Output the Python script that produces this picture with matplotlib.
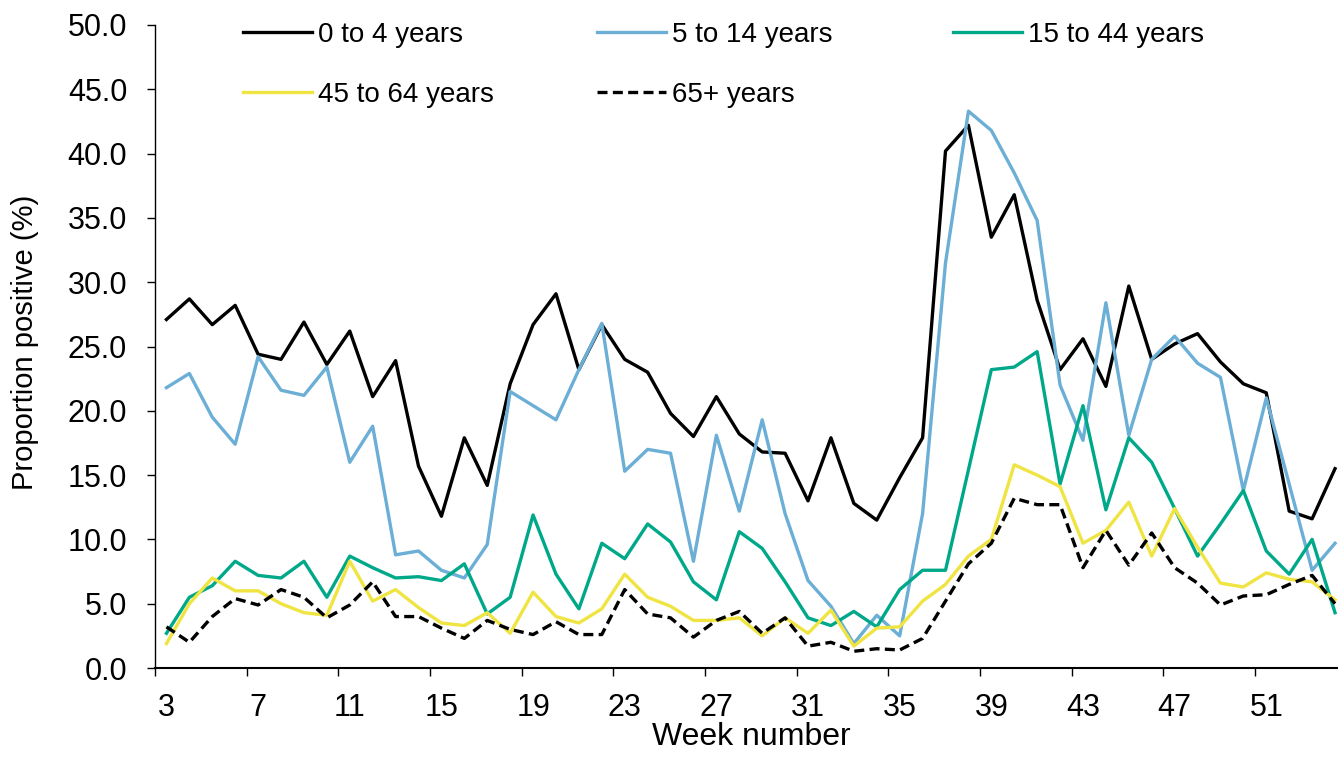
import numpy as np
import matplotlib
matplotlib.use("Agg")
from matplotlib import pyplot as plt

weeks = list(range(3, 55))

age_0_4 = [27.1, 28.7, 26.7, 28.2, 24.4, 24.0, 26.9, 23.6, 26.2, 21.1,
           23.9, 15.7, 11.8, 17.9, 14.2, 22.1, 26.7, 29.1, 23.2, 26.7,
           24.0, 23.0, 19.8, 18.0, 21.1, 18.2, 16.8, 16.7, 13.0, 17.9,
           12.8, 11.5, 14.8, 17.9, 40.2, 42.2, 33.5, 36.8, 28.6, 23.2,
           25.6, 21.9, 29.7, 24.0, 25.2, 26.0, 23.8, 22.1, 21.4, 12.2,
           11.6, 15.5]
age_5_14 = [21.8, 22.9, 19.5, 17.4, 24.2, 21.6, 21.2, 23.4, 16.0, 18.8,
            8.8, 9.1, 7.6, 7.0, 9.6, 21.5, 20.4, 19.3, 23.2, 26.8,
            15.3, 17.0, 16.7, 8.3, 18.1, 12.2, 19.3, 12.0, 6.8, 4.8,
            1.9, 4.1, 2.5, 12.0, 31.5, 43.3, 41.8, 38.5, 34.8, 22.0,
            17.7, 28.4, 18.1, 24.0, 25.8, 23.7, 22.6, 13.8, 21.0, 14.3,
            7.6, 9.7]
age_15_44 = [2.7, 5.5, 6.4, 8.3, 7.2, 7.0, 8.3, 5.5, 8.7, 7.8,
             7.0, 7.1, 6.8, 8.1, 4.2, 5.5, 11.9, 7.3, 4.6, 9.7,
             8.5, 11.2, 9.8, 6.7, 5.3, 10.6, 9.3, 6.7, 3.9, 3.3,
             4.4, 3.2, 6.1, 7.6, 7.6, 15.4, 23.2, 23.4, 24.6, 14.3,
             20.4, 12.3, 17.9, 16.0, 12.4, 8.7, 11.2, 13.8, 9.1, 7.3,
             10.0, 4.3]
age_45_64 = [1.9, 5.0, 7.0, 6.0, 6.0, 5.0, 4.3, 4.1, 8.3, 5.2,
             6.1, 4.7, 3.5, 3.3, 4.3, 2.7, 5.9, 4.0, 3.5, 4.6,
             7.3, 5.5, 4.8, 3.7, 3.7, 3.9, 2.5, 3.9, 2.7, 4.5,
             1.7, 3.1, 3.2, 5.2, 6.5, 8.7, 10.0, 15.8, 15.0, 14.1,
             9.7, 10.7, 12.9, 8.7, 12.4, 9.4, 6.6, 6.3, 7.4, 6.9,
             6.7, 5.3]
age_65 = [3.2, 2.0, 4.0, 5.4, 4.9, 6.1, 5.5, 3.9, 4.9, 6.7,
          4.0, 4.0, 3.1, 2.3, 3.7, 3.0, 2.6, 3.6, 2.6, 2.6,
          6.1, 4.2, 3.9, 2.4, 3.7, 4.4, 2.7, 3.9, 1.7, 2.0,
          1.3, 1.5, 1.4, 2.3, 5.2, 8.1, 9.7, 13.2, 12.7, 12.7,
          7.8, 10.7, 8.0, 10.5, 7.8, 6.6, 4.9, 5.6, 5.7, 6.5,
          7.2, 5.0]

labels = ["0 to 4 years", "5 to 14 years", "15 to 44 years",
          "45 to 64 years", "65+ years"]
colors = ["#000000", "#6BAED6", "#00A88A", "#F0E442", "#000000"]
series = [age_0_4, age_5_14, age_15_44, age_45_64, age_65]

plt.rcParams['font.family'] = ['Liberation Sans', 'DejaVu Sans']

fig = plt.figure(figsize=(13.38, 7.6), dpi=100)
ax = fig.add_axes([155 / 1338, 92 / 760, 1183 / 1338, 643 / 760])

lines = []
for vals, lab, col in zip(series, labels, colors):
    if lab == "65+ years":
        l, = ax.plot(weeks, vals, color=col, lw=2.4, label=lab,
                     linestyle=(0, (3, 1.6)), dash_capstyle='butt')
    else:
        l, = ax.plot(weeks, vals, color=col, lw=2.4, label=lab)
    lines.append(l)

ax.set_xlim(2.5, 54.13)
ax.set_ylim(0, 50)
ax.set_yticks(np.arange(0, 50.1, 5))
ax.yaxis.set_major_formatter('{x:.1f}')

# tick marks sit between weeks, labels on every 4th week
ax.set_xticks(np.arange(2.5, 54, 4))
ax.set_xticks(range(3, 52, 4), minor=True)
ax.set_xticklabels([str(w) for w in range(3, 52, 4)], minor=True)
ax.tick_params(axis='x', which='major', length=6, width=1, labelbottom=False)
ax.tick_params(axis='x', which='minor', length=0, pad=18, labelsize=22)
ax.tick_params(axis='y', length=6, width=1, pad=14, labelsize=22)

ax.spines['top'].set_visible(False)
ax.spines['right'].set_visible(False)
ax.spines['bottom'].set_linewidth(1.5)
ax.spines['left'].set_linewidth(1.0)

legend_cols = [[0, 3], [1, 4], [2]]
legend_x = [243, 597, 953]
for idx, x0 in zip(legend_cols, legend_x):
    fig.legend([lines[j] for j in idx], [labels[j] for j in idx],
               loc='upper left', bbox_to_anchor=(x0 / 1338, 1 - 22 / 760),
               frameon=False, borderpad=0, borderaxespad=0,
               handlelength=2.5, handletextpad=0.2, labelspacing=1.22,
               fontsize=20)

fig.text(25 / 1338, 1 - 342 / 760, 'Proportion positive (%)', rotation=90,
         ha='center', va='center', fontsize=21)
fig.text(751 / 1338, 1 - 745 / 760, 'Week number', ha='center',
         va='baseline', fontsize=23)

fig.savefig('out.png', dpi=100)
